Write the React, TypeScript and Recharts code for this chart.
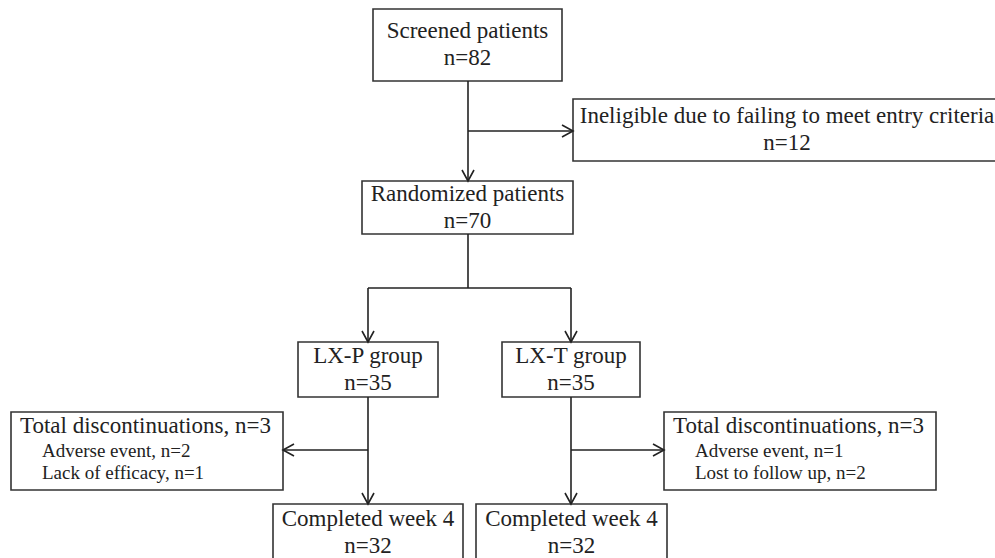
import React from 'react';
import { ScatterChart, XAxis, YAxis, ReferenceArea, ReferenceLine } from 'recharts';

// Flow of patients through the trial
const boxTitles = [
    'Screened patients',
    'Ineligible due to failing to meet entry criteria',
    'Randomized patients',
    'LX-P group',
    'LX-T group',
    'Total discontinuations, n=3',
    'Total discontinuations, n=3',
    'Completed week 4',
    'Completed week 4',
];
const boxCounts = ['n=82', 'n=12', 'n=70', 'n=35', 'n=35', '', '', 'n=32', 'n=32'];
const lxpReasons = ['Adverse event, n=2', 'Lack of efficacy, n=1'];
const lxtReasons = ['Adverse event, n=1', 'Lost to follow up, n=2'];

// Layout in diagram units (x1, x2, y1, y2)
const boxLayout = [
    [373, 562, 9, 81],
    [573, 1001, 99, 161],
    [362, 573, 181, 234],
    [298, 438, 342, 397],
    [502, 640, 342, 397],
    [11, 283, 412, 490],
    [664, 936, 412, 490],
    [273, 463, 504, 562],
    [476, 667, 504, 562],
];
const boxReasons = [null, null, null, null, null, lxpReasons, lxtReasons, null, null];

// connectors: from (x,y) to (x,y), arrow at end?
const connectors = [
    { from: [468, 81], to: [468, 181], arrow: true },
    { from: [468, 131], to: [573, 131], arrow: true },
    { from: [468, 234], to: [468, 288], arrow: false },
    { from: [368, 288], to: [571, 288], arrow: false },
    { from: [368, 288], to: [368, 342], arrow: true },
    { from: [571, 288], to: [571, 342], arrow: true },
    { from: [368, 397], to: [368, 504], arrow: true },
    { from: [368, 450], to: [283, 450], arrow: true },
    { from: [571, 397], to: [571, 504], arrow: true },
    { from: [571, 450], to: [664, 450], arrow: true },
];

const W = 995;
const H = 558;
const FONT = '"Liberation Serif", "Times New Roman", serif';
const INK = '#222';

const BoxText = ({ viewBox, title, count, reasons }: any) => {
    const { x, y, width, height } = viewBox;
    if (reasons) {
        return (
            <g fontFamily={FONT} fill={INK}>
                <text x={x + 9} y={y + 21} fontSize={23}>{title}</text>
                {reasons.map((r: string, i: number) => (
                    <text key={r} x={x + 31} y={y + 45 + i * 22} fontSize={19}>{r}</text>
                ))}
            </g>
        );
    }
    const cx = x + width / 2;
    const cy = y + height / 2;
    return (
        <g fontFamily={FONT} fill={INK} fontSize={23} textAnchor="middle">
            <text x={cx} y={cy - 7}>{title}</text>
            <text x={cx} y={cy + 20}>{count}</text>
        </g>
    );
};

const Arrow = (props: any) => {
    const { x1, y1, x2, y2, arrow } = props;
    const dx = x2 - x1;
    const dy = y2 - y1;
    const len = Math.sqrt(dx * dx + dy * dy) || 1;
    const ux = dx / len;
    const uy = dy / len;
    const L = 11;
    const S = 6;
    const bx = x2 - ux * L;
    const by = y2 - uy * L;
    return (
        <g stroke={INK} strokeWidth={1.6} fill="none">
            <line x1={x1} y1={y1} x2={x2} y2={y2} />
            {arrow && (
                <polyline points={`${bx - uy * S},${by + ux * S} ${x2},${y2} ${bx + uy * S},${by - ux * S}`} />
            )}
        </g>
    );
};

export default function App() {
    return (
        <div style={{ position: 'absolute', left: 0, top: 0, background: '#fff' }}>
            <ScatterChart width={W} height={H} margin={{ top: 0, right: 0, bottom: 0, left: 0 }}>
                <XAxis type="number" dataKey="x" domain={[0, W]} hide allowDataOverflow />
                <YAxis type="number" dataKey="y" domain={[0, H]} reversed hide allowDataOverflow />
                {boxLayout.map(([x1, x2, y1, y2], i) => (
                    <ReferenceArea
                        key={`box-${i}`}
                        x1={x1}
                        x2={x2}
                        y1={y1}
                        y2={y2}
                        ifOverflow="visible"
                        fill="#fff"
                        fillOpacity={1}
                        stroke="#333"
                        strokeWidth={1.6}
                        label={(p: any) => (
                            <BoxText viewBox={p.viewBox} title={boxTitles[i]} count={boxCounts[i]} reasons={boxReasons[i]} />
                        )}
                    />
                ))}
                {connectors.map((c, i) => (
                    <ReferenceLine
                        key={`c-${i}`}
                        segment={[{ x: c.from[0], y: c.from[1] }, { x: c.to[0], y: c.to[1] }]}
                        ifOverflow="visible"
                        shape={(p: any) => <Arrow {...p} arrow={c.arrow} />}
                    />
                ))}
            </ScatterChart>
        </div>
    );
}
